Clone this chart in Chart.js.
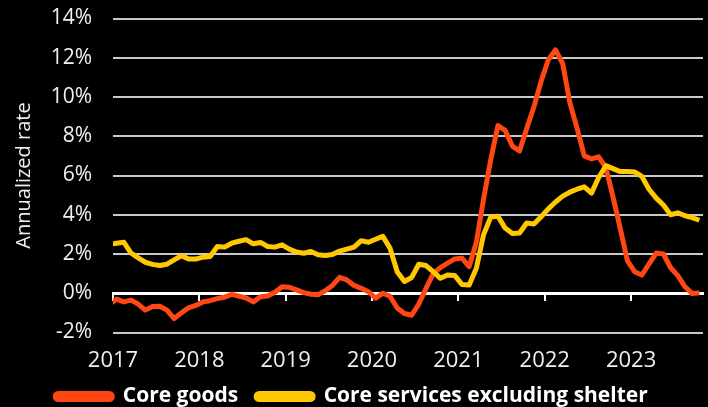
<!DOCTYPE html>
<html>
<head>
<meta charset="utf-8">
<script src="https://cdn.jsdelivr.net/npm/chart.js@4.4.1/dist/chart.umd.min.js"></script>
<style>
    html, body { margin: 0; padding: 0; background: #000; }
    #wrap { width: 708px; height: 407px; }
</style>
</head>
<body>
<div id="wrap"><canvas id="inflation_graph" width="708" height="407"></canvas></div>
<script>
// 月次データ (2016-12 から 2023-10 まで)
const months = [];
for (let y = 2016; y <= 2023; y++) {
    for (let m = 1; m <= 12; m++) {
        if (y === 2016 && m < 12) continue;
        if (y === 2023 && m > 10) continue;
        months.push(y + "-" + String(m).padStart(2, "0"));
    }
}

// Core goods (annualized %)
const core_goods = [
    -0.58,
    -0.30, -0.44, -0.35, -0.55, -0.86, -0.68, -0.66, -0.86, -1.29, -1.00, -0.74, -0.62,
    -0.44, -0.38, -0.27, -0.20, -0.06, -0.15, -0.24, -0.44, -0.18, -0.14,  0.05,  0.33,
     0.30,  0.17,  0.03, -0.05, -0.08,  0.13,  0.40,  0.81,  0.68,  0.40,  0.25,  0.08,
    -0.25,  0.00, -0.15, -0.75, -1.03, -1.12, -0.55,  0.25,  1.00,  1.31,  1.53,  1.75,
     1.79,  1.36,  2.60,  4.80,  6.80,  8.55,  8.30,  7.50,  7.25,  8.40,  9.50, 10.80,
    11.90, 12.40, 11.70,  9.70,  8.40,  7.00,  6.85,  6.95,  6.40,  4.90,  3.30,  1.65,
     1.10,  0.93,  1.50,  2.05,  2.00,  1.30,  0.90,  0.33, -0.02,  0.03
];

// Core services excluding shelter (annualized %)
const core_services = [
    2.50,
    2.55, 2.60, 2.05, 1.80, 1.58, 1.47, 1.41, 1.48, 1.70, 1.91, 1.75, 1.74,
    1.84, 1.87, 2.38, 2.35, 2.55, 2.65, 2.73, 2.52, 2.59, 2.38, 2.35, 2.47,
    2.25, 2.10, 2.04, 2.13, 1.96, 1.92, 1.97, 2.15, 2.25, 2.35, 2.68, 2.60,
    2.75, 2.90, 2.30, 1.10, 0.60, 0.80, 1.48, 1.41, 1.10, 0.76, 0.93, 0.90,
    0.45, 0.42, 1.27, 2.98, 3.88, 3.92, 3.32, 3.05, 3.07, 3.58, 3.53, 3.90,
    4.30, 4.65, 4.95, 5.15, 5.30, 5.42, 5.10, 5.90, 6.50, 6.35, 6.20, 6.20,
    6.18, 5.95, 5.30, 4.85, 4.50, 4.00, 4.10, 3.95, 3.85, 3.72
];

const year_labels = ["2017", "2018", "2019", "2020", "2021", "2022", "2023"];
const y_ticks = [-2, 0, 2, 4, 6, 8, 10, 12, 14];

const RED = "#ff4714";
const YELLOW = "#ffc800";
const FONT = "'Open Sans'";

window.addEventListener("load", function () {
    draw_inflation_graph();
});

// 2017年1月からの月数 (月の中旬に置く)
function month_pos(label) {
    let parts = label.split("-");
    return (parseInt(parts[0]) - 2017) * 12 + (parseInt(parts[1]) - 1) + 0.5;
}

function to_points(values) {
    let points = [];
    for (let i = 0; i < values.length; i++) {
        points.push({ x: month_pos(months[i]), y: values[i] });
    }
    return points;
}

function year_ticks_only(axis) {
    axis.ticks = year_labels.map((y, i) => ({ value: i * 12 }));
}

function draw_inflation_graph() {
    const ctx = document.getElementById("inflation_graph").getContext("2d");
    const myChart = new Chart(ctx, {
        type: "line",
        data: {
            datasets: [{
                label: "Core goods",
                data: to_points(core_goods),
                borderColor: RED,
                backgroundColor: RED,
                borderWidth: 5,
                pointRadius: 0,
                borderJoinStyle: "round",
                order: 2
            }, {
                label: "Core services excluding shelter",
                data: to_points(core_services),
                borderColor: YELLOW,
                backgroundColor: YELLOW,
                borderWidth: 5,
                pointRadius: 0,
                borderJoinStyle: "round",
                order: 1
            }]
        },
        options: {
            responsive: false,
            animation: false,
            layout: { padding: { top: 18.5, right: 5, bottom: -10, left: 0 } },
            plugins: {
                tooltip: { enabled: false },
                legend: {
                    position: "bottom",
                    labels: {
                        color: "#ffffff",
                        font: { family: FONT, size: 21, weight: "bold" },
                        boxWidth: 57,
                        boxHeight: 6,
                        useBorderRadius: true,
                        borderRadius: 3,
                        padding: 18,
                        sort: (a, b) => a.datasetIndex - b.datasetIndex
                    }
                }
            },
            scales: {
                x: {
                    type: "linear",
                    min: 0,
                    max: 82,
                    afterBuildTicks: year_ticks_only,
                    afterFit: (s) => { s.height = 35.5; },
                    grid: { display: false, drawTicks: false },
                    border: { display: false },
                    ticks: {
                        color: "#f0f0f0",
                        font: { family: FONT, size: 22 },
                        padding: 15,
                        maxRotation: 0,
                        callback: (v) => year_labels[v / 12]
                    }
                },
                // 0% の白い線と年の目盛り
                x0: {
                    type: "linear",
                    axis: "x",
                    position: { y: 0 },
                    min: 0,
                    max: 82,
                    afterBuildTicks: year_ticks_only,
                    afterFit: (s) => { s.height = 0; },
                    grid: { drawOnChartArea: false, color: "#ffffff", lineWidth: 2, tickLength: 6 },
                    border: { color: "#ffffff", width: 3 },
                    ticks: { display: false }
                },
                y: {
                    min: -2,
                    max: 14,
                    afterBuildTicks: (axis) => { axis.ticks = y_ticks.map((v) => ({ value: v })); },
                    // 幅を固定、目盛りラベルのはみ出し分は無視する
                    afterFit: (s) => { s.width = 113; s.paddingTop = 0; s.paddingBottom = 0; },
                    grid: { color: "#c9c9cc", lineWidth: 2, drawTicks: false },
                    border: { display: false },
                    ticks: {
                        color: "#f0f0f0",
                        font: { family: FONT, size: 21 },
                        padding: 21,
                        callback: (v) => v + "%"
                    },
                    title: {
                        display: true,
                        text: "Annualized rate",
                        color: "#f0f0f0",
                        font: { family: FONT, size: 20 },
                        padding: { top: 12, bottom: 0 }
                    }
                }
            }
        }
    });
}
</script>
</body>
</html>
